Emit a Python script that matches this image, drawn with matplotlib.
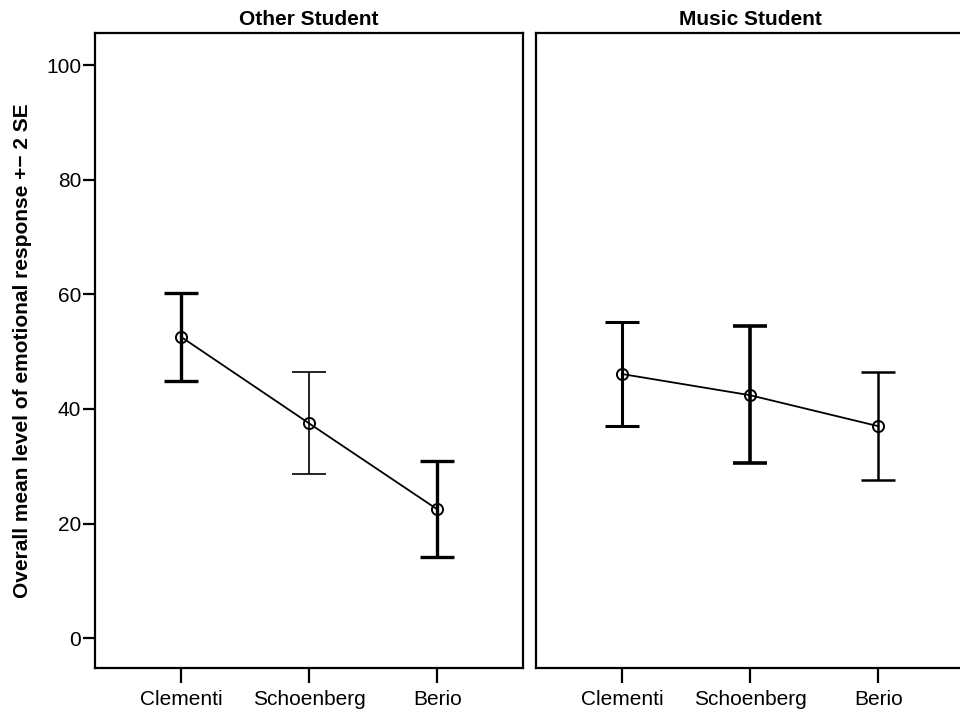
import numpy as np
import matplotlib.pyplot as plt

plt.rcParams['font.family'] = ['Liberation Sans', 'DejaVu Sans']

# composers (x categories)
pieces = ['Clementi', 'Schoenberg', 'Berio']
groups = ['Other Student', 'Music Student']

# means and +-2 SE bounds
other_mean = [52.6, 37.5, 22.5]
other_low = [44.9, 28.6, 14.1]
other_high = [60.3, 46.5, 30.9]

music_mean = [46.1, 42.4, 37.0]
music_low = [37.0, 30.5, 27.6]
music_high = [55.1, 54.5, 46.5]

# error bar stroke weights differ per point in the original
other_ebw = [2.4, 1.2, 2.4]
music_ebw = [2.2, 2.6, 1.8]

fig = plt.figure(figsize=(9.6, 7.11), dpi=100)
ax1 = fig.add_axes([95/960, 43/711, 428/960, 635/711])
ax2 = fig.add_axes([536/960, 43/711, 428/960, 635/711])

x = np.arange(1, 4)
data = [(ax1, other_mean, other_low, other_high, other_ebw),
        (ax2, music_mean, music_low, music_high, music_ebw)]

for i, (ax, m, lo, hi, ebw) in enumerate(data):
    m = np.array(m)
    err = [m - np.array(lo), np.array(hi) - m]
    for k in range(3):
        ax.errorbar(x[k], m[k], yerr=[[err[0][k]], [err[1][k]]], fmt='none',
                    ecolor='black', elinewidth=ebw[k], capsize=12, capthick=ebw[k])
    ax.plot(x, m, color='black', lw=1.3, marker='o', mfc='none', mec='black',
            ms=8, mew=1.4)
    ax.set_xlim(0.33, 3.67)
    ax.set_ylim(-5.2, 105.6)
    ax.set_xticks(x)
    ax.set_xticklabels(pieces, fontsize=15)
    ax.set_title(groups[i], fontsize=15, fontweight='bold', pad=6)
    for s in ax.spines.values():
        s.set_linewidth(1.6)
    ax.tick_params(axis='x', length=11, width=1.6, pad=5)
    ax.tick_params(axis='y', length=9, width=1.6, labelsize=15, pad=1)

ax1.set_yticks([0, 20, 40, 60, 80, 100])
ax1.set_ylabel('Overall mean level of emotional response +\u2212 2 SE',
               fontsize=15, fontweight='bold', labelpad=10)
ax2.set_yticks([])

fig.savefig('out.png', dpi=100)
